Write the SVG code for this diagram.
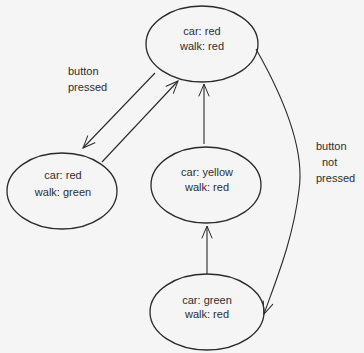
<svg xmlns="http://www.w3.org/2000/svg" width="364" height="353" viewBox="0 0 364 353">
  <defs>
    <marker id="head" viewBox="0 0 14 14" refX="13" refY="7" markerWidth="14" markerHeight="14" markerUnits="userSpaceOnUse" orient="auto">
      <path d="M1,2 L13,7 L1,12" fill="none" stroke="#2a2a2a" stroke-width="1" stroke-linecap="round"/>
    </marker>
    <style>
      .state { fill: none; stroke: #2a2a2a; stroke-width: 1.3; }
      .edge { fill: none; stroke: #2a2a2a; stroke-width: 1.1; marker-end: url(#head); }
      .lbl { font-family: "Liberation Sans", Arial, sans-serif; font-size: 11px; fill: #2e2e2e; }
      .mid { text-anchor: middle; }
    </style>
  </defs>
  <rect width="364" height="353" fill="#f5f5f5"/>

  <g id="connectors">
    <path class="edge" d="M155,73 L83,148"/>
    <path class="edge" d="M102,162 L178,81"/>
    <path class="edge" d="M204,144 L204,84"/>
    <path class="edge" d="M207,274 L207,226"/>
    <path class="edge" d="M256,49 C285,100 305,150 299,190 C293,240 276,280 264,314"/>
  </g>

  <g id="state-red-red">
    <ellipse class="state" cx="202" cy="44" rx="56" ry="38"/>
    <text class="lbl mid" x="202" y="35">car: red</text>
    <text class="lbl mid" x="202" y="50">walk: red</text>
  </g>

  <g id="state-red-green">
    <ellipse class="state" cx="62" cy="191" rx="55" ry="38"/>
    <text class="lbl mid" x="63" y="179">car: red</text>
    <text class="lbl mid" x="63" y="196">walk: green</text>
  </g>

  <g id="state-yellow-red">
    <ellipse class="state" cx="206" cy="185" rx="55" ry="38"/>
    <text class="lbl mid" x="207" y="176">car: yellow</text>
    <text class="lbl mid" x="207" y="191">walk: red</text>
  </g>

  <g id="state-green-red">
    <ellipse class="state" cx="207" cy="312" rx="57" ry="38"/>
    <text class="lbl mid" x="207" y="304">car: green</text>
    <text class="lbl mid" x="207" y="318">walk: red</text>
  </g>

  <g id="label-pressed">
    <text class="lbl" x="68" y="75">button</text>
    <text class="lbl" x="68" y="91">pressed</text>
  </g>

  <g id="label-not-pressed">
    <text class="lbl" x="316" y="150">button</text>
    <text class="lbl" x="322" y="166">not</text>
    <text class="lbl" x="316" y="182">pressed</text>
  </g>
</svg>
